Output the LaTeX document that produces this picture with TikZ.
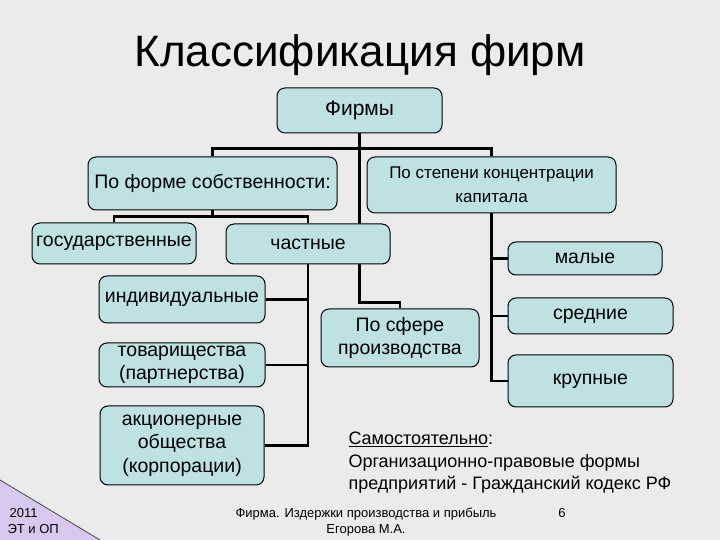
\documentclass[tikz,border=0pt]{standalone}
\usepackage{fontspec}
\setmainfont{Liberation Sans}
\usetikzlibrary{positioning,backgrounds}
\definecolor{slidebg}{RGB}{235,235,235}
\definecolor{boxfill}{RGB}{190,226,226}
\definecolor{cornerfill}{RGB}{216,200,240}

\begin{document}
\begin{tikzpicture}[x=1pt,y=1pt,on grid,
  box/.style={draw,rounded corners=8pt,fill=boxfill,line width=1pt,align=center,inner sep=1pt,font=\fontsize{19.5}{23.5}\selectfont},
  link/.style={line width=2.5pt}]
\useasboundingbox (0,0) rectangle (720,540);
\node[anchor=base,font=\fontsize{44}{50}\selectfont] (title) at (360,473) {Классификация фирм};
\node[box,minimum width=165pt,minimum height=45pt,font=\fontsize{21}{24}\selectfont] (firms) at (359.5,429.5) {Фирмы};
\node[box,minimum width=249pt,minimum height=53pt] (forma) [below left=73pt and 147pt of firms] {По форме собственности:};
\node[box,minimum width=249pt,minimum height=56pt,font=\fontsize{17}{24}\selectfont] (stepen) [below right=74.5pt and 132pt of firms] {По степени концентрации\\капитала};
\node[box,minimum width=164pt,minimum height=41pt] (gos) [below left=60pt and 98.5pt of forma] {государственные};
\node[box,minimum width=164pt,minimum height=40pt] (chast) [below right=60.5pt and 95.5pt of forma] {частные};
\node[box,minimum width=166pt,minimum height=47pt] (ind) [below left=55.5pt and 126pt of chast] {индивидуальные};
\node[box,minimum width=166pt,minimum height=44pt] (tov) [below=65.5pt of ind] {товарищества\\(партнерства)};
\node[box,minimum width=164pt,minimum height=79pt] (akc) [below=80.5pt of tov] {акционерные\\общества\\(корпорации)};
\node[box,minimum width=158pt,minimum height=58pt] (sfera) [below right=94pt and 92pt of chast] {По сфере\\производства};
\node[box,minimum width=154pt,minimum height=33pt] (malye) [below right=73.5pt and 93.5pt of stepen] {малые};
\node[box,minimum width=165pt,minimum height=36pt] (sred) [below right=131pt and 99pt of stepen] {средние};
\node[box,minimum width=165pt,minimum height=52pt] (krup) [below=65pt of sred] {крупные};
\node[anchor=base west,align=left,font=\fontsize{18}{22.5}\selectfont] (note) at (345,50) {\underline{Самостоятельно}:\\Организационно-правовые формы\\предприятий - Гражданский кодекс РФ};
\node[anchor=north,align=center,font=\fontsize{13}{16}\selectfont] (footer) at (366,36) {Фирма. Издержки производства и прибыль\\Егорова М.А.};
\node[anchor=north,font=\fontsize{13}{16}\selectfont] (page) at (562,35) {6};
\node[anchor=north west,align=left,font=\fontsize{13}{16}\selectfont] (year) at (4,35) {\,2011\\ЭТ и ОП};
\begin{scope}[on background layer]
\fill[slidebg] (0,0) rectangle (720,540);
\fill[cornerfill] (0,60) -- (100,0) -- (0,0) -- cycle;
\draw[line width=0.8pt,black!70] (0,60) -- (100,0);
% tree
\draw[link] (firms.south) -- ++(0,-15) -| (forma.north);
\draw[link] (firms.south) -- ++(0,-15) -| (stepen.north);
\draw[link] (firms.south) -- ++(0,-169) -| (sfera.north);
\draw[link] (forma.south) -- ++(0,-6) -| (gos.north);
\draw[link] (forma.south) -- ++(0,-6) -| (chast.north);
\draw[link] (chast.south) |- (ind.east);
\draw[link] (chast.south) |- (tov.east);
\draw[link] (chast.south) |- (akc.east);
\draw[link] (stepen.south) |- (malye.west);
\draw[link] (stepen.south) |- (sred.west);
\draw[link] (stepen.south) |- (krup.west);
\end{scope}
\end{tikzpicture}
\end{document}
